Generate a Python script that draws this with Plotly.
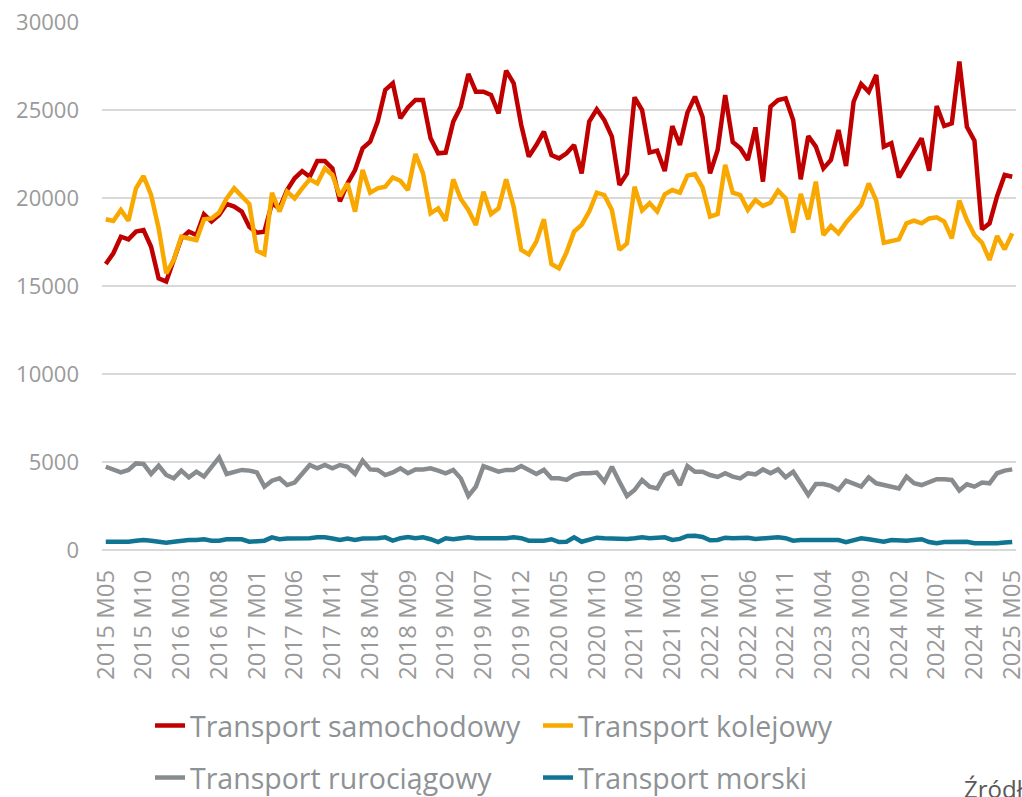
import plotly.graph_objects as go

# ---- categories (monthly, 2015 M05 .. 2025 M05) ----
months = []
for yr in range(2015, 2026):
    for m in range(1, 13):
        if (yr == 2015 and m < 5) or (yr == 2025 and m > 5):
            continue
        months.append(f"{yr} M{m:02d}")

tick_labels = [
    "2015 M05", "2015 M10", "2016 M03", "2016 M08", "2017 M01", "2017 M06", "2017 M11",
    "2018 M04", "2018 M09", "2019 M02", "2019 M07", "2019 M12", "2020 M05", "2020 M10",
    "2021 M03", "2021 M08", "2022 M01", "2022 M06", "2022 M11", "2023 M04", "2023 M09",
    "2024 M02", "2024 M07", "2024 M12", "2025 M05",
]

samochodowy = [
    16250, 16860, 17800, 17650, 18090, 18180, 17230, 15430, 15250, 16480,
    17710, 18090, 17900, 19070, 18660, 19030, 19660, 19510, 19230, 18370,
    18030, 18090, 19700, 19410, 20450, 21120, 21530, 21210, 22100, 22100,
    21680, 19810, 20830, 21590, 22820, 23200, 24340, 26140, 26520, 24530,
    25150, 25570, 25570, 23390, 22540, 22580, 24340, 25190, 27050, 26040,
    26040, 25850, 24810, 27240, 26520, 24150, 22350, 23010, 23770, 22440,
    22250, 22540, 23010, 21400, 24340, 25040, 24430, 23490, 20740, 21400,
    25720, 25000, 22580, 22690, 21530, 24090, 23010, 24850, 25760, 24620,
    21400, 22730, 25850, 23180, 22820, 22160, 24010, 20930, 25190, 25570,
    25660, 24430, 21060, 23520, 22920, 21680, 22160, 23860, 21820, 25470,
    26480, 26040, 26990, 22920, 23110, 21170, 21880, 22630, 23390, 21550,
    25230, 24090, 24240, 27750, 24050, 23260, 18220, 18560, 20100, 21310,
    21210,
]

kolejowy = [
    18790, 18690, 19320, 18710, 20550, 21250, 20170, 18280, 15720, 16480,
    17800, 17710, 17610, 18790, 18840, 19170, 19980, 20550, 20110, 19660,
    17010, 16800, 20300, 19230, 20360, 19980, 20550, 21060, 20830, 21680,
    21310, 20110, 20830, 19230, 21590, 20300, 20550, 20640, 21170, 20980,
    20450, 22500, 21400, 19130, 19410, 18710, 21060, 19940, 19320, 18470,
    20360, 19090, 19410, 21060, 19510, 17050, 16800, 17520, 18790, 16250,
    16000, 16910, 18090, 18470, 19230, 20300, 20170, 19320, 17050, 17420,
    20640, 19300, 19700, 19230, 20210, 20450, 20300, 21270, 21360, 20600,
    18940, 19090, 21880, 20300, 20170, 19320, 19890, 19550, 19730, 20420,
    19980, 18030, 20230, 18790, 20930, 17900, 18410, 17990, 18600, 19130,
    19600, 20830, 19850, 17460, 17580, 17650, 18560, 18710, 18560, 18840,
    18900, 18660, 17710, 19850, 18750, 17900, 17460, 16480, 17840, 17080,
    17990,
]

rurociagowy = [
    4730, 4550, 4410, 4550, 4920, 4890, 4320, 4790, 4260, 4070,
    4510, 4130, 4450, 4170, 4730, 5260, 4320, 4410, 4550, 4510,
    4410, 3600, 3940, 4070, 3690, 3830, 4360, 4830, 4640, 4830,
    4640, 4830, 4730, 4320, 5080, 4580, 4550, 4260, 4410, 4640,
    4360, 4580, 4580, 4640, 4510, 4360, 4550, 4070, 3070, 3600,
    4770, 4640, 4450, 4550, 4550, 4770, 4550, 4320, 4550, 4070,
    4070, 3980, 4260, 4360, 4360, 4400, 3880, 4730, 3880, 3070,
    3410, 3980, 3600, 3500, 4260, 4450, 3690, 4770, 4450, 4450,
    4260, 4150, 4360, 4170, 4070, 4360, 4300, 4580, 4360, 4580,
    4130, 4450, 3790, 3130, 3750, 3750, 3640, 3410, 3940, 3790,
    3600, 4130, 3790, 3690, 3600, 3500, 4170, 3790, 3690, 3830,
    4020, 4020, 3980, 3380, 3730, 3600, 3830, 3790, 4360, 4510,
    4580,
]

morski = [
    470, 470, 420, 470, 530, 570, 530, 450, 420, 470,
    530, 570, 570, 610, 530, 530, 610, 610, 610, 470,
    510, 530, 720, 610, 650, 650, 610, 670, 720, 720,
    650, 570, 650, 570, 650, 650, 670, 720, 530, 670,
    740, 670, 720, 610, 450, 670, 610, 670, 720, 670,
    670, 610, 610, 670, 720, 670, 530, 530, 530, 610,
    450, 470, 720, 470, 570, 700, 670, 650, 630, 630,
    670, 720, 670, 720, 720, 570, 630, 800, 810, 740,
    550, 570, 700, 670, 670, 700, 630, 670, 670, 720,
    670, 530, 570, 570, 530, 570, 530, 570, 450, 530,
    670, 610, 570, 470, 570, 530, 530, 570, 610, 450,
    380, 450, 470, 510, 470, 380, 360, 360, 380, 420,
    450,
]

series = [
    ("Transport samochodowy", samochodowy, "#C00000", "legend"),
    ("Transport kolejowy", kolejowy, "#F9A800", "legend"),
    ("Transport rurociągowy", rurociagowy, "#888C8E", "legend2"),
    ("Transport morski", morski, "#0F7592", "legend2"),
]

FONT = "Open Sans, Noto Sans, DejaVu Sans, sans-serif"
TICK_COLOR = "#9A9A9A"
LEG_COLOR = "#8E9295"

fig = go.Figure()
for name, vals, color, leg in series:
    fig.add_trace(go.Scatter(
        x=months, y=vals, name=name, mode="lines",
        line=dict(color=color, width=4.5),
        legend=leg,
    ))

W, H = 1022, 797
ML, MR, MT, MB = 102, 6, 22, 247
plot_w = W - ML - MR
plot_h = H - MT - MB

def px_x(p):
    return (p - ML) / plot_w

def px_y(p):
    return (H - MB - p) / plot_h

leg_common = dict(
    orientation="h", xanchor="left", yanchor="middle",
    font=dict(family=FONT, size=28.5, color=LEG_COLOR),
    entrywidth=343, entrywidthmode="pixels",
    bgcolor="rgba(0,0,0,0)", borderwidth=0,
)

fig.update_layout(
    width=W, height=H,
    template="none",
    paper_bgcolor="white", plot_bgcolor="white",
    margin=dict(l=ML, r=MR, t=MT, b=MB, autoexpand=False),
    font=dict(family=FONT),
    showlegend=True,
    legend=dict(x=px_x(150), y=px_y(726), **leg_common),
    legend2=dict(x=px_x(150), y=px_y(778), **leg_common),
    xaxis=dict(
        type="category",
        range=[-0.5, len(months) - 0.5],
        tickmode="array", tickvals=tick_labels, ticktext=tick_labels,
        tickangle=-90,
        tickfont=dict(family=FONT, size=24, color=TICK_COLOR),
        showgrid=False, zeroline=False, showline=False,
        ticks="", ticklabelstandoff=14,
        automargin=False,
    ),
    yaxis=dict(
        range=[0, 30000],
        tickmode="array", tickvals=[0, 5000, 10000, 15000, 20000, 25000, 30000],
        ticktext=["0", "5000", "10000", "15000", "20000", "25000", "30000"],
        tickfont=dict(family=FONT, size=22, color=TICK_COLOR),
        showgrid=True, gridcolor="#D9D9D9", gridwidth=1.5,
        zeroline=True, zerolinecolor="#D9D9D9", zerolinewidth=1.5,
        showline=False, ticks="", ticklabelstandoff=22,
        automargin=False,
    ),
    annotations=[dict(
        text="Źródło:", xref="paper", yref="paper",
        x=px_x(962), y=px_y(788), xanchor="left", yanchor="middle",
        showarrow=False, font=dict(family=FONT, size=24, color="#595959"),
    )],
)

fig.write_html(
    "out.html",
    config={"displayModeBar": False},
    post_script="document.body.style.margin='0';document.body.style.overflow='hidden';",
)
